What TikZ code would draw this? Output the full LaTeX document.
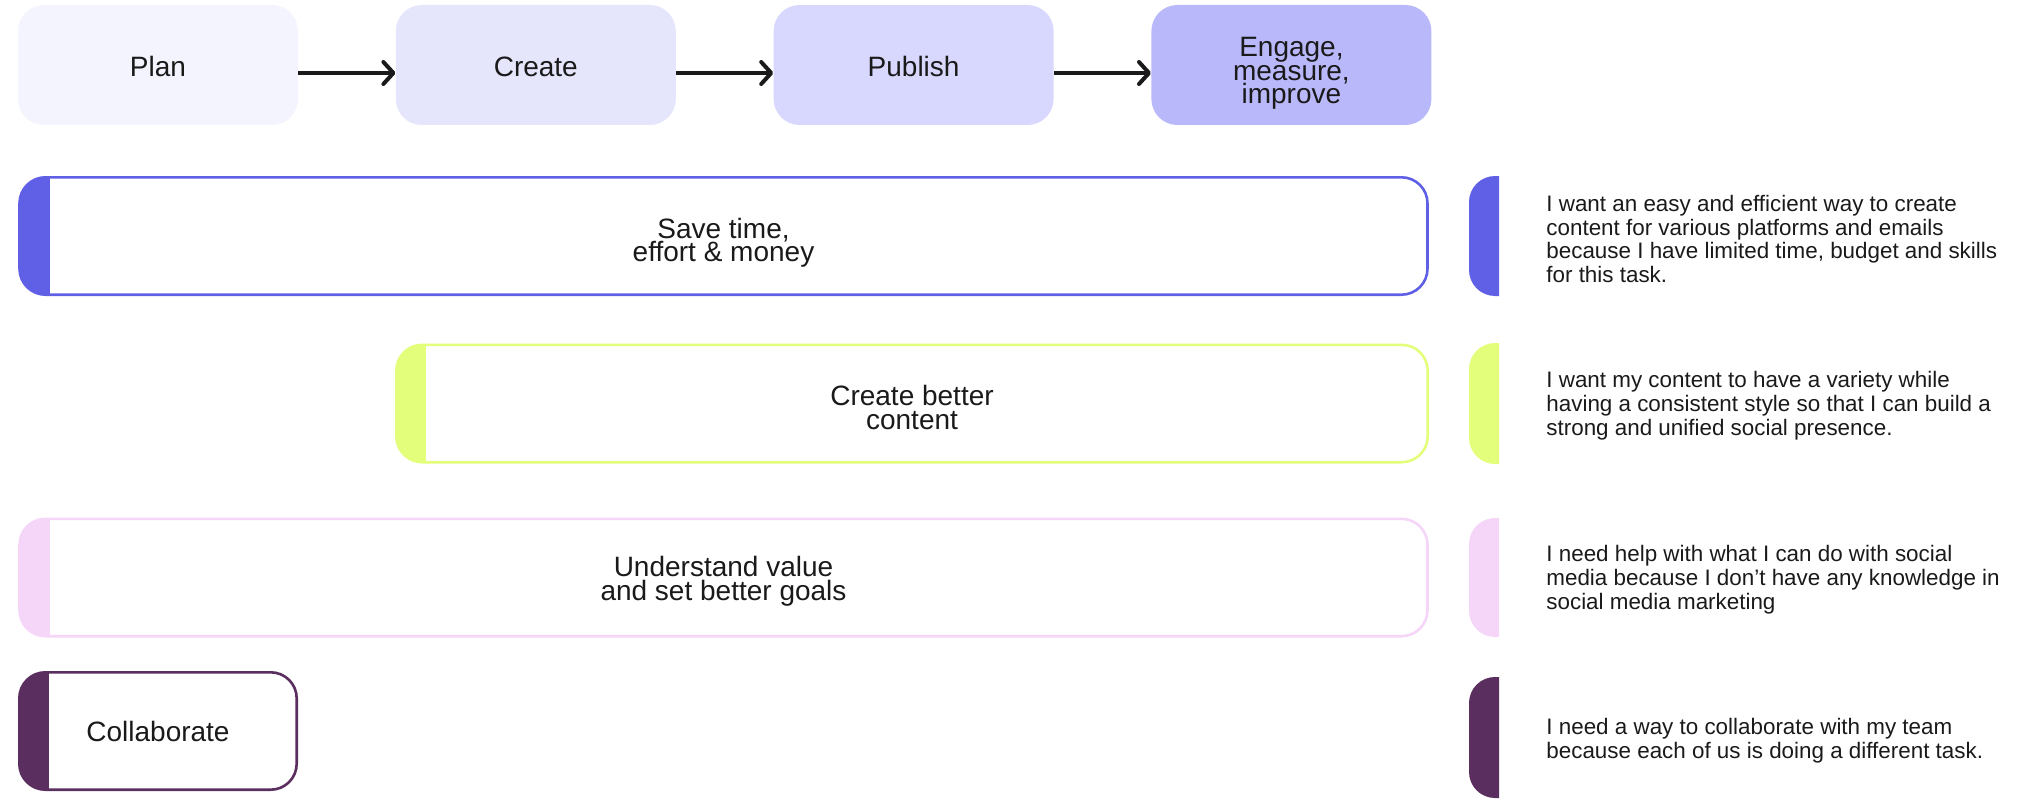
\documentclass[tikz,border=0pt]{standalone}
\usepackage{fontspec}
\setmainfont{Liberation Sans}
\usetikzlibrary{arrows.meta, positioning}

\definecolor{inkcol}{HTML}{1A1A1A}
\definecolor{planfill}{HTML}{F4F4FE}
\definecolor{createfill}{HTML}{E5E5FC}
\definecolor{publishfill}{HTML}{D8D7FE}
\definecolor{engagefill}{HTML}{B9B8FA}
\definecolor{savecol}{HTML}{6060E6}
\definecolor{bettercol}{HTML}{E3FE7A}
\definecolor{undercol}{HTML}{F5D6F8}
\definecolor{collabcol}{HTML}{5A2E5E}

\newcommand{\phasefont}{\fontsize{14}{11.7}\selectfont\lineskiplimit=-20pt}
\newcommand{\needfont}{\fontsize{11.2}{11.9}\selectfont\lineskiplimit=-20pt}

\begin{document}
\begin{tikzpicture}[x=0.5pt, y=-0.5pt, text=inkcol,
    phase/.style={fill=#1, rounded corners=13pt, minimum width=140pt, minimum height=60pt, align=center, font=\phasefont},
    goal/.style={draw=#1, line width=1.3pt, fill=white, rounded corners=13pt, minimum height=58.7pt, align=center, font=\phasefont,
        path picture={\fill[#1, sharp corners] (path picture bounding box.north west) rectangle ([xshift=15pt]path picture bounding box.south west);}},
    need/.style={anchor=west, align=left, inner sep=0pt, font=\needfont},
    flow/.style={-{Straight Barb[round, length=5pt, width=11pt]}, line width=2pt, draw=inkcol}]

    \useasboundingbox (0,0) rectangle (2039,808);

    % workflow phases
    \node [phase=planfill] (plan) at (158,65) {\rule{0pt}{12pt}Plan};
    \node [phase=createfill, right=48.5pt of plan] (create) {\rule{0pt}{12pt}Create};
    \node [phase=publishfill, right=48.5pt of create] (publish) {\rule{0pt}{12pt}Publish};
    \node [phase=engagefill, right=48.5pt of publish] (engage) {\rule{0pt}{18pt}Engage,\\measure,\\improve};

    \draw [flow] ([yshift=-4pt]plan.east) -- ([yshift=-4pt]create.west);
    \draw [flow] ([yshift=-4pt]create.east) -- ([yshift=-4pt]publish.west);
    \draw [flow] ([yshift=-4pt]publish.east) -- ([yshift=-4pt]engage.west);

    % goals across the phases
    \node [goal=savecol, minimum width=704pt] (save) at (723.5,236) {\rule{0pt}{17pt}Save time,\\effort \& money};
    \node [goal=bettercol, minimum width=515.7pt] (better) at (912,403.5) {\rule{0pt}{14pt}Create better\\content};
    \node [goal=undercol, minimum width=704pt] (understand) at (723.5,577.5) {\rule{0pt}{14pt}Understand value\\and set better goals};
    \node [goal=collabcol, minimum width=138.7pt] (collab) at (158,731) {Collaborate};

    % user needs
    \begin{scope} \clip (1469,176) rectangle (1499,296); \fill [savecol, rounded corners=13pt] (1469,176) rectangle (1540,296); \end{scope}
    \begin{scope} \clip (1469,343) rectangle (1499,464); \fill [bettercol, rounded corners=13pt] (1469,343) rectangle (1540,464); \end{scope}
    \begin{scope} \clip (1469,518) rectangle (1499,637); \fill [undercol, rounded corners=13pt] (1469,518) rectangle (1540,637); \end{scope}
    \begin{scope} \clip (1469,677) rectangle (1499,798); \fill [collabcol, rounded corners=13pt] (1469,677) rectangle (1540,798); \end{scope}

    \node [need] (needsave) at (1546,239) {I want an easy and efficient way to create\\content for various platforms and emails\\because I have limited time, budget and skills\\for this task.};
    \node [need] (needbetter) at (1546,406) {I want my content to have a variety while\\having a consistent style so that I can build a\\strong and unified social presence.};
    \node [need] (needunderstand) at (1546,580) {I need help with what I can do with social\\media because I don't have any knowledge in\\social media marketing};
    \node [need] (needcollab) at (1546,741) {I need a way to collaborate with my team\\because each of us is doing a different task.};
\end{tikzpicture}
\end{document}
